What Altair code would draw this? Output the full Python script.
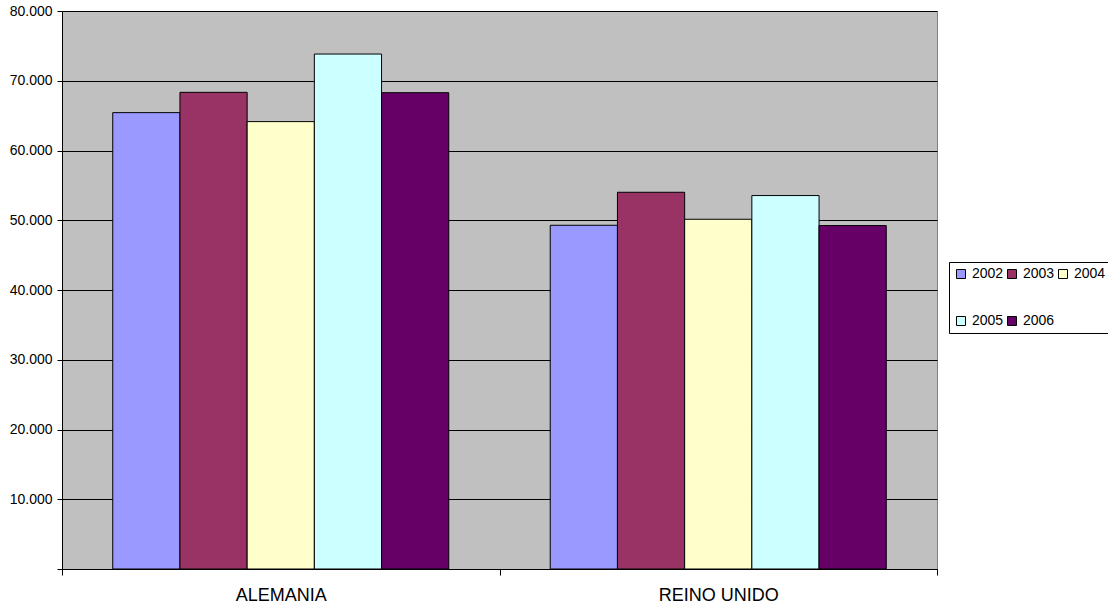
import altair as alt
import pandas as pd

# Countries, years and values (thousands separator shown as ".")
countries = ["ALEMANIA", "REINO UNIDO"]
years = ["2002", "2003", "2004", "2005", "2006"]
alemania = [65430, 68340, 64140, 73830, 68290]
reino_unido = [49280, 54010, 50140, 53540, 49240]
year_colors = ["#9999FF", "#993366", "#FFFFCC", "#CCFFFF", "#660066"]
y_ticks = [0, 10000, 20000, 30000, 40000, 50000, 60000, 70000, 80000]

rows = []
for country, series in zip(countries, [alemania, reino_unido]):
    for year, value in zip(years, series):
        rows.append({"pais": country, "anio": year, "valor": value})
df = pd.DataFrame(rows)

FONT = "Liberation Sans"

bars = alt.Chart(df).mark_bar(stroke="black", strokeWidth=1).encode(
    x=alt.X(
        "pais:N",
        sort=countries,
        title=None,
        scale=alt.Scale(paddingInner=0, paddingOuter=0),
        axis=alt.Axis(
            labelAngle=0,
            labelFont=FONT,
            labelFontSize=18,
            labelColor="black",
            labelPadding=11,
            tickBand="extent",
            tickSize=6,
            tickColor="black",
            domainColor="black",
            grid=False,
        ),
    ),
    # the five yearly bars fill the middle of each country band
    xOffset=alt.XOffset(
        "anio:N", sort=years, scale=alt.Scale(paddingInner=0, paddingOuter=0.755)
    ),
    y=alt.Y(
        "valor:Q",
        title=None,
        scale=alt.Scale(domain=[0, 80000], nice=False),
        axis=alt.Axis(
            values=y_ticks,
            labelExpr="datum.value == 0 ? '' : replace(format(datum.value, ',.0f'), ',', '.')",
            labelFont=FONT,
            labelFontSize=14,
            labelColor="black",
            labelPadding=5,
            tickSize=5,
            tickColor="black",
            domainColor="black",
            gridColor="#000000",
            gridWidth=1,
        ),
    ),
    color=alt.Color(
        "anio:N",
        sort=years,
        scale=alt.Scale(domain=years, range=year_colors),
        legend=alt.Legend(
            title=None,
            orient="none",
            direction="horizontal",
            legendX=887,
            legendY=251,
            columns=3,
            symbolType="square",
            symbolSize=81,
            symbolStrokeColor="black",
            symbolStrokeWidth=1,
            symbolOpacity=1,
            labelFont=FONT,
            labelFontSize=14,
            labelColor="black",
            labelOffset=4,
            columnPadding=1,
            rowPadding=33,
            padding=5,
            strokeColor="black",
            fillColor="white",
        ),
    ),
)

chart = bars.properties(
    width=875,
    height=558,
    autosize=alt.AutoSizeParams(type="none"),
    padding={"left": 62, "top": 11, "right": 171, "bottom": 38},
    background="white",
).configure_view(
    fill="#C0C0C0",
    stroke="#808080",
    strokeWidth=1,
)

chart.save("out.html", embed_options={"renderer": "svg", "actions": False})
